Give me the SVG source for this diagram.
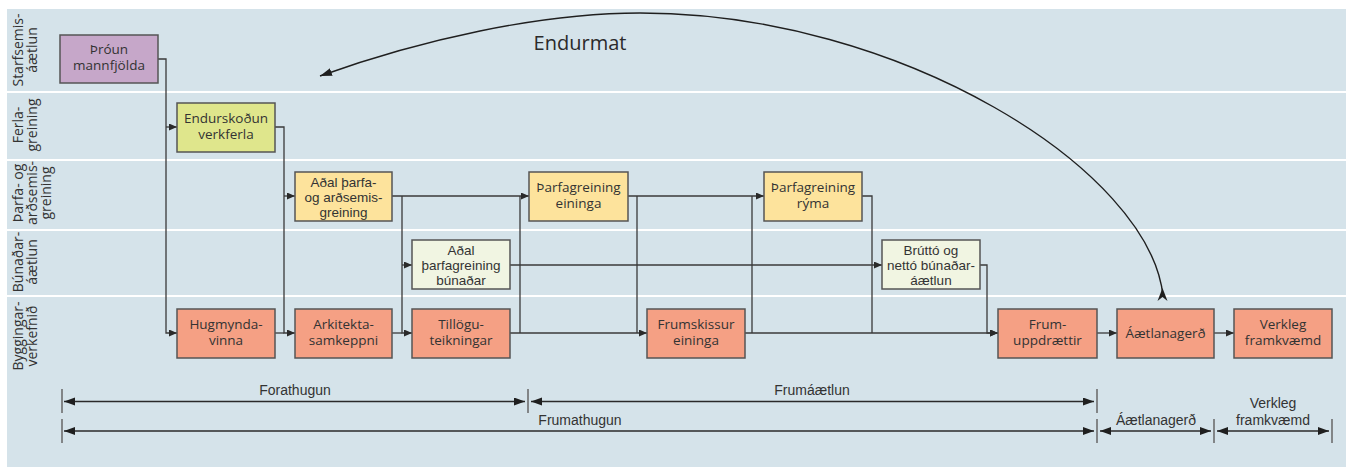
<svg xmlns="http://www.w3.org/2000/svg" width="1346" height="468" viewBox="0 0 1346 468">
<style>
.bg{fill:#d5e3ea}
.sep{stroke:#ffffff;stroke-width:2}
.lane{font-family:"Open Sans","Liberation Sans",sans-serif;font-size:14px;fill:#333;text-anchor:middle}
.node rect{stroke:#555;stroke-width:1.5}
.node text{font-family:"Open Sans","Liberation Sans",sans-serif;font-size:13.5px;fill:#333;text-anchor:middle}
.node text.t3{font-family:"Liberation Sans",Arial,sans-serif;font-size:13.5px}
.purple{fill:#c6a7c9}
.lime{fill:#dfe68c}
.yellow{fill:#fde39c}
.pale{fill:#f1f5e2}
.salmon{fill:#f5a084}
.conn path{fill:none;stroke:#3a3a3a;stroke-width:1.3}
.conn path.tail{fill:#1f1f1f;stroke:none}
.arr{marker-end:url(#ah)}
.tl line{stroke:#2a2a2a;stroke-width:1.3;marker-start:url(#tah);marker-end:url(#tah)}
.tl line.tick{stroke:#666;stroke-width:1.5;marker-start:none;marker-end:none}
.tlt{font-family:"Liberation Sans",Arial,sans-serif;font-size:14px;fill:#333;text-anchor:middle}
</style>
<defs>
<marker id="ah" markerUnits="userSpaceOnUse" markerWidth="9" markerHeight="8" refX="8" refY="3.5" orient="auto">
<path d="M0,0 L8,3.5 L0,7 z" fill="#2a2a2a"/>
</marker>
<marker id="tah" markerUnits="userSpaceOnUse" markerWidth="12" markerHeight="9" refX="11" refY="4" orient="auto-start-reverse">
<path d="M0,0 L11,4 L0,8 z" fill="#1f1f1f"/>
</marker>
<marker id="cah" markerUnits="userSpaceOnUse" markerWidth="13" markerHeight="9" refX="12" refY="4" orient="auto">
<path d="M0,0 L12,4 L0,8 z" fill="#1f1f1f"/>
</marker>
</defs>
<rect class="bg" x="7" y="9" width="1339" height="458"/>
<g id="separators">
<line class="sep" x1="7" y1="92" x2="1346" y2="92"/>
<line class="sep" x1="7" y1="160" x2="1346" y2="160"/>
<line class="sep" x1="7" y1="230" x2="1346" y2="230"/>
<line class="sep" x1="7" y1="296" x2="1346" y2="296"/>
</g>
<g id="lane-labels">
<text class="lane" transform="translate(23,50) rotate(-90)">Starfsemis-</text>
<text class="lane" transform="translate(37,50) rotate(-90)">áætlun</text>
<text class="lane" transform="translate(23,125) rotate(-90)">Ferla-</text>
<text class="lane" transform="translate(37,125) rotate(-90)">greining</text>
<text class="lane" transform="translate(23,193) rotate(-90)">Þarfa- og</text>
<text class="lane" transform="translate(37,193) rotate(-90)">arðsemis-</text>
<text class="lane" transform="translate(51,193) rotate(-90)">greining</text>
<text class="lane" transform="translate(23,262) rotate(-90)">Búnaðar-</text>
<text class="lane" transform="translate(37,262) rotate(-90)">áætlun</text>
<text class="lane" transform="translate(23,336) rotate(-90)">Byggingar-</text>
<text class="lane" transform="translate(37,336) rotate(-90)">verkefnið</text>
</g>
<g id="connectors" class="conn">
<path class="arr" d="M158,59 H166 V333 H177"/>
<path class="arr" d="M166,127 H177"/>
<path class="arr" d="M275,127 H284 V333 H295"/>
<path class="arr" d="M284,196 H295"/>
<path d="M275,333 H284"/>
<path class="arr" d="M392,196 H529"/>
<path class="arr" d="M402,196 V333 H412"/>
<path class="arr" d="M402,265 H412"/>
<path d="M392,333 H402"/>
<path class="arr" d="M510,333 H647"/>
<path d="M520,333 V196"/>
<path class="arr" d="M510,265 H882"/>
<path class="arr" d="M628,196 H764"/>
<path d="M637,196 V333"/>
<path class="arr" d="M745,333 H998"/>
<path d="M752,333 V196"/>
<path d="M862,196 H872 V333"/>
<path class="arr" d="M980,265 H987 V333 H998"/>
<path class="arr" d="M1097,333 H1117"/>
<path class="arr" d="M1214,333 H1234"/>
<path d="M1163,296 C1150,170 900,13 640,13 C540,13 420,40 320,76" style="stroke:#1f1f1f;stroke-width:1.4" marker-end="url(#cah)"/>
<path class="tail" d="M1162.5,288 L1167.5,301 L1162.5,297 L1157.5,301 z"/>
</g>
<g id="n-throun" class="node"><rect class="purple" x="60" y="35" width="98" height="48"/><text x="109" y="54">Þróun</text><text x="109" y="70">mannfjölda</text></g>
<g id="n-endurskodun" class="node"><rect class="lime" x="177" y="103" width="98" height="49"/><text x="226" y="123">Endurskoðun</text><text x="226" y="139">verkferla</text></g>
<g id="n-adal-tharfa" class="node"><rect class="yellow" x="295" y="172" width="97" height="49"/><text class="t3" x="343.5" y="187">Aðal þarfa-</text><text class="t3" x="343.5" y="202">og arðsemis-</text><text class="t3" x="343.5" y="217">greining</text></g>
<g id="n-tharf-eininga" class="node"><rect class="yellow" x="529" y="172" width="99" height="49"/><text x="578.5" y="192">Þarfagreining</text><text x="578.5" y="208">eininga</text></g>
<g id="n-tharf-ryma" class="node"><rect class="yellow" x="764" y="172" width="98" height="49"/><text x="813" y="192">Þarfagreining</text><text x="813" y="208">rýma</text></g>
<g id="n-adal-bunadar" class="node"><rect class="pale" x="412" y="240" width="98" height="49"/><text class="t3" x="461" y="255">Aðal</text><text class="t3" x="461" y="270">þarfagreining</text><text class="t3" x="461" y="285">búnaðar</text></g>
<g id="n-brutto" class="node"><rect class="pale" x="882" y="240" width="98" height="49"/><text class="t3" x="931" y="255">Brúttó og</text><text class="t3" x="931" y="270">nettó búnaðar-</text><text class="t3" x="931" y="285">áætlun</text></g>
<g id="n-hugmynda" class="node"><rect class="salmon" x="177" y="309" width="98" height="49"/><text x="226" y="329">Hugmynda-</text><text x="226" y="345">vinna</text></g>
<g id="n-arkitekta" class="node"><rect class="salmon" x="295" y="309" width="97" height="49"/><text x="343.5" y="329">Arkitekta-</text><text x="343.5" y="345">samkeppni</text></g>
<g id="n-tillogu" class="node"><rect class="salmon" x="412" y="309" width="98" height="49"/><text x="461" y="329">Tillögu-</text><text x="461" y="345">teikningar</text></g>
<g id="n-frumskissur" class="node"><rect class="salmon" x="647" y="309" width="98" height="49"/><text x="696" y="329">Frumskissur</text><text x="696" y="345">eininga</text></g>
<g id="n-frumuppdr" class="node"><rect class="salmon" x="998" y="309" width="99" height="49"/><text x="1047.5" y="329">Frum-</text><text x="1047.5" y="345">uppdrættir</text></g>
<g id="n-aetlanagerd" class="node"><rect class="salmon" x="1117" y="309" width="97" height="49"/><text x="1165.5" y="338">Áætlanagerð</text></g>
<g id="n-verkleg" class="node"><rect class="salmon" x="1234" y="309" width="98" height="49"/><text x="1283" y="329">Verkleg</text><text x="1283" y="345">framkvæmd</text></g>
<text x="580" y="50" style="font-family:'Open Sans','Liberation Sans',sans-serif;font-size:20px;fill:#2a2a2a;text-anchor:middle">Endurmat</text>
<g id="timeline" class="tl">
<line class="tick" x1="62" y1="389" x2="62" y2="413"/>
<line class="tick" x1="528" y1="389" x2="528" y2="413"/>
<line class="tick" x1="1097" y1="389" x2="1097" y2="413"/>
<line class="tick" x1="62" y1="419" x2="62" y2="443"/>
<line class="tick" x1="1097" y1="419" x2="1097" y2="443"/>
<line class="tick" x1="1214" y1="419" x2="1214" y2="443"/>
<line class="tick" x1="1332" y1="419" x2="1332" y2="443"/>
<line x1="64" y1="401.5" x2="525" y2="401.5"/>
<line x1="531" y1="401.5" x2="1094" y2="401.5"/>
<line x1="64" y1="431" x2="1094" y2="431"/>
<line x1="1100" y1="431" x2="1211" y2="431"/>
<line x1="1217" y1="431" x2="1329" y2="431"/>
<text class="tlt" x="295" y="395">Forathugun</text>
<text class="tlt" x="812" y="395">Frumáætlun</text>
<text class="tlt" x="580" y="425">Frumathugun</text>
<text class="tlt" x="1156" y="425">Áætlanagerð</text>
<text class="tlt" x="1273" y="408">Verkleg</text>
<text class="tlt" x="1273" y="425">framkvæmd</text>
</g>
</svg>
